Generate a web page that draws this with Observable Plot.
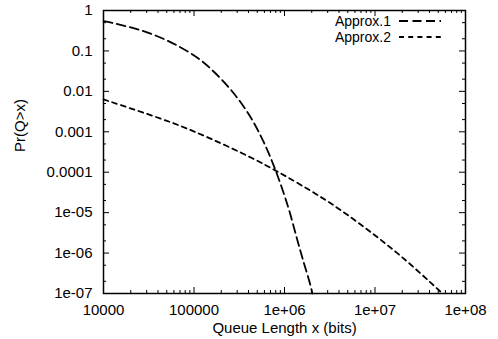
<!DOCTYPE html>
<html>
<head>
<meta charset="utf-8">
<script src="https://cdn.jsdelivr.net/npm/d3@7"></script>
<script src="https://cdn.jsdelivr.net/npm/@observablehq/plot@0.6"></script>
<style>
  body { margin: 0; background: #fff; }
  #chart { width: 498px; height: 339px; }
  #chart svg { font-family: "Liberation Sans", Arial, Helvetica, sans-serif; }
</style>
</head>
<body>
<div id="chart"></div>
<script>
// Tail probability of the queue length, two approximations (log-log axes)
const seriesNames = ["Approx.1", "Approx.2"];

const approx1X = [1e4, 1.43e4, 2.82e4, 5.57e4, 1.10e5, 1.68e5, 2.69e5, 4.11e5, 5.79e5, 7.98e5, 1.10e6, 1.36e6, 1.61e6, 1.94e6, 2.03e6];
const approx1Y = [0.543, 0.46, 0.305, 0.163, 0.0667, 0.0297, 9.5e-3, 2.52e-3, 6.05e-4, 1.1e-4, 1.35e-5, 2.45e-6, 6.5e-7, 1.56e-7, 1e-7];

const approx2X = [1e4, 5.5e4, 1.5e5, 4.3e5, 7.9e5, 1.5e6, 3.3e6, 8e6, 1.98e7, 4.8e7, 5.56e7];
const approx2Y = [6.31e-3, 1.73e-3, 6.87e-4, 2.28e-4, 1.11e-4, 4.91e-5, 1.65e-5, 4.02e-6, 8.0e-7, 1.36e-7, 1e-7];

const xTicks = [1e4, 1e5, 1e6, 1e7, 1e8];
const xTickLabels = ["10000", "100000", "1e+06", "1e+07", "1e+08"];
const yTicks = [1, 0.1, 0.01, 0.001, 1e-4, 1e-5, 1e-6, 1e-7];
const yTickLabels = ["1", "0.1", "0.01", "0.001", "0.0001", "1e-05", "1e-06", "1e-07"];

const xLabel = "Queue Length x (bits)";
const yLabel = "Pr(Q>x)";

// minor ticks: 2..9 per decade on x, 2 and 5 per decade on y
const xMinor = d3.range(4, 8).flatMap(e => d3.range(2, 10).map(m => m * 10 ** e));
const yMinor = d3.range(-7, 0).flatMap(e => [2, 5].map(m => m * 10 ** e));

const dashes = ["9,4.5", "5,4.2"];

const rows = [
  ...approx1X.map((x, i) => ({series: seriesNames[0], x, y: approx1Y[i]})),
  ...approx2X.map((x, i) => ({series: seriesNames[1], x, y: approx2Y[i]}))
];

const W = 498, H = 339;
const M = {top: 10, right: 33, bottom: 46, left: 103};
const plotW = W - M.left - M.right, plotH = H - M.top - M.bottom;
const major = 6, minor = 3;

const xFmt = new Map(xTicks.map((t, i) => [t, xTickLabels[i]]));
const yFmt = new Map(yTicks.map((t, i) => [t, yTickLabels[i]]));

const tickStyle = {stroke: "#000", strokeWidth: 1};

const chart = Plot.plot({
  width: W, height: H,
  marginTop: M.top, marginRight: M.right, marginBottom: M.bottom, marginLeft: M.left,
  style: {fontSize: "15px", color: "#000", background: "#fff"},
  x: {type: "log", domain: [1e4, 1e8]},
  y: {type: "log", domain: [1e-7, 1]},
  marks: [
    Plot.axisX(xTicks, {tickSize: 0, tickPadding: 11, tickFormat: d => xFmt.get(d), label: null, fontSize: 15}),
    Plot.axisY(yTicks, {tickSize: 0, tickPadding: 11, tickFormat: d => yFmt.get(d), label: null, fontSize: 15}),
    // inward ticks on all four sides
    Plot.tickX(xTicks, {x: d => d, insetTop: plotH - major, ...tickStyle}),
    Plot.tickX(xTicks, {x: d => d, insetBottom: plotH - major, ...tickStyle}),
    Plot.tickX(xMinor, {x: d => d, insetTop: plotH - minor, ...tickStyle}),
    Plot.tickX(xMinor, {x: d => d, insetBottom: plotH - minor, ...tickStyle}),
    Plot.tickY(yTicks, {y: d => d, insetRight: plotW - major, ...tickStyle}),
    Plot.tickY(yTicks, {y: d => d, insetLeft: plotW - major, ...tickStyle}),
    Plot.tickY(yMinor, {y: d => d, insetRight: plotW - minor, ...tickStyle}),
    Plot.tickY(yMinor, {y: d => d, insetLeft: plotW - minor, ...tickStyle}),
    ...seriesNames.map((name, k) =>
      Plot.line(rows.filter(d => d.series === name), {
        x: "x", y: "y", curve: "catmull-rom",
        stroke: "#000", strokeWidth: 1.8, strokeDasharray: dashes[k]
      })
    ),
    Plot.frame({stroke: "#000", strokeWidth: 1.5}),
    Plot.text([xLabel], {frameAnchor: "bottom", dy: 39, text: d => d, fontSize: 15, fill: "#000"}),
    Plot.text([yLabel], {frameAnchor: "left", dx: -83, rotate: -90, text: d => d, fontSize: 15, fill: "#000"})
  ]
});

// Key: name + dashed line sample, top right inside the frame
const key = d3.select(chart).append("g")
  .attr("font-size", 14)
  .attr("font-family", "Liberation Sans, Arial, sans-serif");
seriesNames.forEach((name, k) => {
  const yMid = M.top + 11 + k * 16;
  key.append("text")
    .attr("x", M.left + plotW - 74).attr("y", yMid).attr("dy", "0.35em")
    .attr("text-anchor", "end").attr("fill", "#000").text(name);
  key.append("line")
    .attr("x1", M.left + plotW - 66).attr("x2", M.left + plotW - 24)
    .attr("y1", yMid).attr("y2", yMid)
    .attr("stroke", "#000").attr("stroke-width", 1.8).attr("stroke-dasharray", dashes[k]);
});

document.getElementById("chart").appendChild(chart);
</script>
</body>
</html>
